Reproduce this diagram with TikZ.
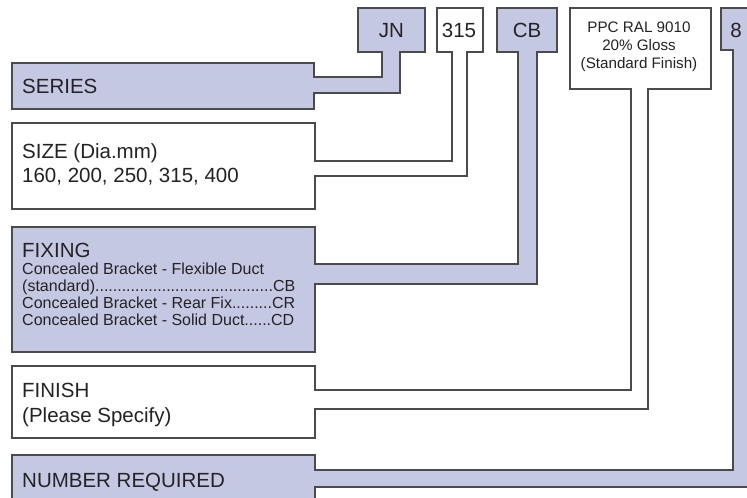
\documentclass[tikz,border=0pt]{standalone}
\usepackage{fontspec}
\setmainfont{Liberation Sans}

\definecolor{lilla}{RGB}{197,200,226}
\definecolor{bordo}{RGB}{75,75,75}
\definecolor{testo}{RGB}{35,35,35}

\tikzset{
  pieno/.style={draw=bordo, fill=lilla, line width=1.2pt},
  vuoto/.style={draw=bordo, fill=white, line width=1.2pt},
  bigtxt/.style={inner sep=0pt, text=testo, align=left, font=\fontsize{20.5}{24.5}\selectfont},
  smalltxt/.style={inner sep=0pt, text=testo, align=left, font=\fontsize{16}{16.7}\selectfont},
  tinytxt/.style={inner sep=0pt, text=testo, align=center, font=\fontsize{15.2}{18}\selectfont}
}

\begin{document}
\begin{tikzpicture}[x=1pt, y=-1pt]

        \useasboundingbox (0, 0) rectangle (747, 498);
        \clip (0, 0) rectangle (747, 498);

        % 1. JN -> SERIES
        \draw[pieno] (12, 63) -- (314, 63) -- (314, 77) -- (382, 77) -- (382, 52) -- (358, 52) -- (358, 8)
            -- (425, 8) -- (425, 52) -- (400, 52) -- (400, 93) -- (314, 93) -- (314, 109) -- (12, 109) -- cycle;
        \node[bigtxt, anchor=base] (jn) at (391.5, 37) {JN};
        \node[bigtxt, anchor=base west] (series) at (22, 93) {SERIES};

        % 2. 315 -> SIZE
        \draw[vuoto] (12, 123) -- (315, 123) -- (315, 161) -- (452, 161) -- (452, 52) -- (437, 52) -- (437, 8)
            -- (483, 8) -- (483, 52) -- (467, 52) -- (467, 176) -- (315, 176) -- (315, 209) -- (12, 209) -- cycle;
        \node[bigtxt, anchor=base] (size) at (459, 37) {315};
        \node[bigtxt, anchor=base west] (sizelbl) at (22, 158) {SIZE (Dia.mm)};
        \node[bigtxt, anchor=base west] (sizelist) at (22, 182) {160, 200, 250, 315, 400};

        % 3. CB -> FIXING
        \draw[pieno] (12, 227) -- (315, 227) -- (315, 264) -- (518, 264) -- (518, 52) -- (497, 52) -- (497, 8)
            -- (557, 8) -- (557, 52) -- (537, 52) -- (537, 284) -- (315, 284) -- (315, 352) -- (12, 352) -- cycle;
        \node[bigtxt, anchor=base] (cb) at (527, 37) {CB};
        \node[bigtxt, anchor=base west] (fixing) at (22, 257) {FIXING};
        % la base del nodo e' l'ultima riga
        \node[smalltxt, anchor=base west] (fixopt) at (22, 325) {Concealed Bracket - Flexible Duct\\
            (standard)........................................CB\\
            Concealed Bracket - Rear Fix.........CR\\
            Concealed Bracket - Solid Duct......CD};

        % 4. PPC -> FINISH
        \draw[vuoto] (12, 366) -- (315, 366) -- (315, 390) -- (631, 390) -- (631, 89) -- (570, 89) -- (570, 8)
            -- (711, 8) -- (711, 89) -- (648, 89) -- (648, 409) -- (315, 409) -- (315, 438) -- (12, 438) -- cycle;
        \node[tinytxt, anchor=base] (ppc) at (639, 68) {PPC RAL 9010\\20\% Gloss\\(Standard Finish)};
        \node[bigtxt, anchor=base west] (finish) at (22, 422) {FINISH\\(Please Specify)};

        % 5. 8 -> NUMBER REQUIRED (tagliato a destra e in basso)
        \draw[pieno] (12, 455) -- (315, 455) -- (315, 470) -- (733, 470) -- (733, 50) -- (721, 50) -- (721, 8)
            -- (760, 8) -- (760, 487) -- (315, 487) -- (315, 510) -- (12, 510) -- cycle;
        \node[bigtxt, anchor=base] (num) at (736, 37) {8};
        \node[bigtxt, anchor=base west] (number) at (22, 487) {NUMBER REQUIRED};

    \end{tikzpicture}
\end{document}
